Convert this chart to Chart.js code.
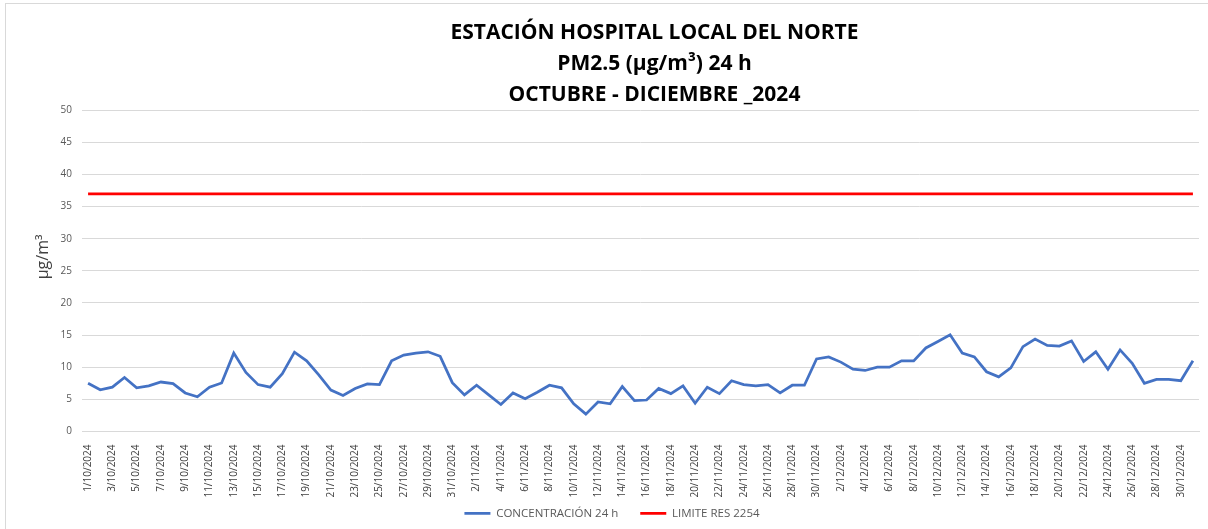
<!DOCTYPE html>
<html lang="es">
<head>
  <meta charset="UTF-8">
  <title>Estación Hospital Local del Norte - PM2.5</title>
  <script src="https://cdn.jsdelivr.net/npm/chart.js"></script>
  <style>
    html, body {
      margin: 0;
      padding: 0;
      background: #ffffff;
      overflow: hidden;
    }
    #wrap {
      position: relative;
      width: 1208px;
      height: 529px;
    }
    #frame {
      position: absolute;
      left: 5px;
      top: 3px;
      width: 1300px;
      height: 700px;
      border-left: 1.5px solid #d9d9d9;
      border-top: 1.5px solid #d9d9d9;
    }
    canvas {
      position: absolute;
      left: 0;
      top: 0;
    }
  </style>
</head>
<body>
  <div id="wrap">
    <div id="frame"></div>
    <canvas id="pmChart" width="1208" height="529"></canvas>
  </div>

  <script>
    // meses del periodo: [mes, dias]
    var meses = [[10, 31], [11, 30], [12, 31]];

    var fechas = [];
    meses.forEach(function (m) {
      for (var d = 1; d <= m[1]; d++) {
        fechas.push(d + '/' + m[0] + '/2024');
      }
    });

    // concentracion 24 h (ug/m3)
    var octubre = [7.5, 6.5, 6.9, 8.4, 6.8, 7.1, 7.7, 7.45, 6.0, 5.4, 6.9, 7.55, 12.2, 9.2, 7.3, 6.9,
      9.0, 12.35, 11.0, 8.8, 6.45, 5.6, 6.7, 7.4, 7.3, 11.0, 11.9, 12.2, 12.4, 11.7, 7.6];
    var noviembre = [5.7, 7.2, 5.7, 4.2, 6.0, 5.1, 6.1, 7.2, 6.8, 4.3, 2.7, 4.6, 4.3, 7.0, 4.8,
      4.9, 6.7, 5.9, 7.1, 4.4, 6.9, 5.9, 7.9, 7.3, 7.1, 7.3, 6.0, 7.2, 7.2, 11.3];
    var diciembre = [11.6, 10.8, 9.7, 9.5, 10.0, 10.0, 11.0, 11.0, 13.0, 14.0, 15.05, 12.2, 11.6, 9.3,
      8.5, 9.9, 13.2, 14.4, 13.4, 13.3, 14.1, 10.9, 12.4, 9.7, 12.7, 10.6, 7.5, 8.1, 8.1, 7.9, 11.0];

    var concentracion = octubre.concat(noviembre, diciembre);

    // limite norma Res. 2254
    var LIMITE = 37;
    var limite = fechas.map(function () { return LIMITE; });

    var titulo = [
      'ESTACIÓN HOSPITAL LOCAL DEL NORTE',
      'PM2.5 (µg/m³) 24 h',
      'OCTUBRE - DICIEMBRE _2024'
    ];

    // pequeños ajustes de posicion (titulo un poco a la derecha, como en Excel)
    var ajustes = {
      id: 'ajustes',
      afterLayout: function (chart) {
        chart.titleBlock.left += 76;
        chart.legend.right -= 9;
      }
    };

    var ctx = document.getElementById('pmChart').getContext('2d');

    new Chart(ctx, {
      type: 'line',
      data: {
        labels: fechas,
        datasets: [{
          label: 'CONCENTRACIÓN 24 h',
          data: concentracion,
          borderColor: '#4472c4',
          backgroundColor: '#4472c4',
          borderWidth: 2.75,
          pointRadius: 0,
          tension: 0
        }, {
          label: 'LIMITE RES 2254',
          data: limite,
          borderColor: '#ff0000',
          backgroundColor: '#ff0000',
          borderWidth: 2.75,
          pointRadius: 0,
          tension: 0
        }]
      },
      plugins: [ajustes],
      options: {
        responsive: false,
        animation: false,
        layout: {
          padding: { left: 34, right: 9, top: 17, bottom: 0 }
        },
        plugins: {
          title: {
            display: true,
            text: titulo,
            color: '#000000',
            font: { family: 'Open Sans', size: 21, weight: 'bold', lineHeight: 1.48 },
            padding: { top: 0, bottom: 0 }
          },
          legend: {
            position: 'bottom',
            labels: {
              usePointStyle: true,
              pointStyle: 'line',
              pointStyleWidth: 26,
              boxHeight: 10,
              padding: 22,
              color: '#595959',
              font: { family: 'Open Sans', size: 11.5 }
            }
          },
          tooltip: { enabled: false }
        },
        scales: {
          x: {
            offset: true,
            grid: { display: false },
            border: { display: true, color: '#d9d9d9', width: 1 },
            ticks: {
              autoSkip: false,
              maxRotation: 90,
              minRotation: 90,
              padding: 5,
              color: '#404040',
              font: { family: 'Open Sans', size: 10 },
              callback: function (value, index) {
                return index % 2 === 0 ? this.getLabelForValue(value) : null;
              }
            },
            afterFit: function (scale) {
              // las fechas invaden el espacio de la leyenda, sin recortarlas
              scale.height = 54;
              scale._computeLabelArea = function () { return undefined; };
            }
          },
          y: {
            min: 0,
            max: 50,
            ticks: {
              stepSize: 5,
              padding: 10,
              color: '#595959',
              font: { family: 'Open Sans', size: 10 }
            },
            grid: { color: '#d9d9d9', lineWidth: 1, drawTicks: false },
            border: { display: false },
            title: {
              display: true,
              text: 'µg/m³',
              color: '#404040',
              font: { family: 'Open Sans', size: 16 },
              padding: { top: 0, bottom: 0 }
            },
            afterFit: function (scale) {
              scale.width = 48;
              // titulo del eje algo mas arriba del centro
              scale.drawTitle = function () {
                var b = this.bottom;
                this.bottom -= 28;
                Chart.Scale.prototype.drawTitle.call(this);
                this.bottom = b;
              };
            }
          }
        }
      }
    });
  </script>
</body>
</html>
